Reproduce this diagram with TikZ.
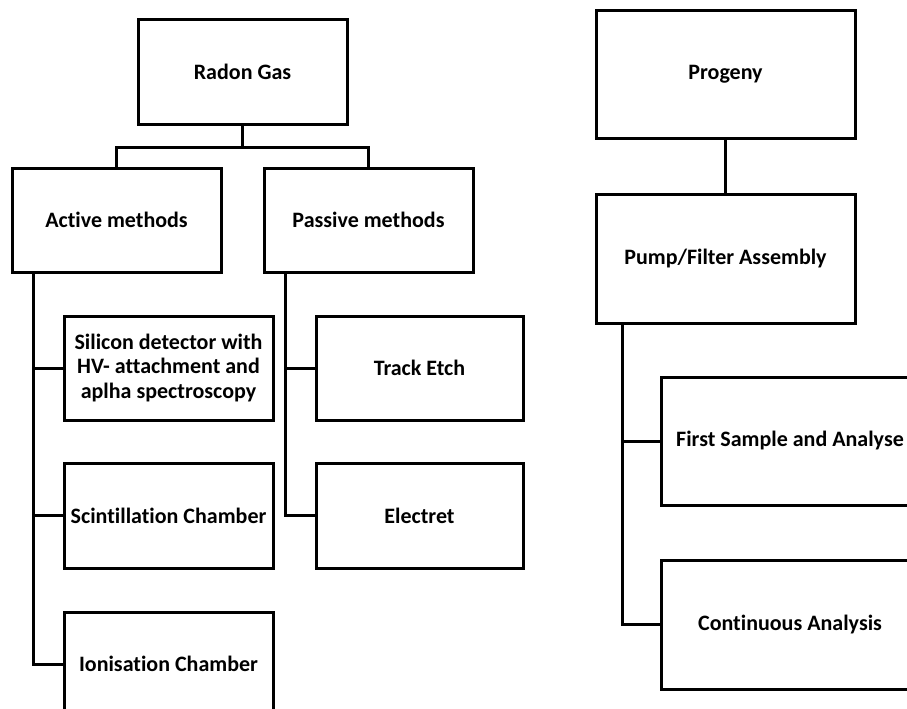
\documentclass[tikz,border=0pt]{standalone}
\usepackage{fontspec}
\setmainfont[Ligatures={NoCommon,NoRare}]{Carlito}
\begin{document}
\begin{tikzpicture}[x=1pt,y=-1pt,
  box/.style={draw=black,line width=3pt,rectangle,align=center,inner sep=0pt,
    font=\fontsize{22}{24.5}\selectfont\bfseries,text=black},
  sbox/.style={box,minimum width=209pt,minimum height=104pt},
  wbox/.style={box,minimum width=259pt,minimum height=128pt},
  link/.style={draw=black,line width=3pt,line join=miter}]
\useasboundingbox (0,0) rectangle (907,709);
\clip (0,0) rectangle (907,709);
\fill[white] (0,0) rectangle (907,709);
% left tree
\node[sbox] (radon) at (242.5,72) {Radon Gas};
\node[sbox] (active) at (116.5,220) {Active methods};
\node[sbox] (passive) at (368.5,220) {Passive methods};
\node[sbox] (silicon) at (168.5,368) {Silicon detector with\\HV- attachment and\\aplha spectroscopy};
\node[sbox,minimum height=105pt] (scint) at (168.5,515.5) {Scintillation Chamber};
\node[sbox] (ion) at (168.5,664) {Ionisation Chamber};
\node[box,minimum width=207pt,minimum height=104pt] (track) at (419.5,368) {Track Etch};
\node[box,minimum width=207pt,minimum height=105pt] (electret) at (419.5,515.5) {Electret};
% right tree
\node[wbox,minimum height=127pt] (progeny) at (725.5,74.5) {Progeny};
\node[wbox,minimum height=129pt] (pump) at (725.5,258.5) {Pump/Filter Assembly};
\node[box,minimum width=258pt,minimum height=128pt] (first) at (790,441) {First Sample and Analyse};
\node[box,minimum width=258pt,minimum height=129pt] (cont) at (790,624.5) {Continuous Analysis};
% connectors
\draw[link] (radon.south) -- ++(0,22) -| (active.north);
\draw[link] (radon.south) -- ++(0,22) -| (passive.north);
\draw[link] ([xshift=-83.5]active.south) |- (silicon.west);
\draw[link] ([xshift=-83.5]active.south) |- (scint.west);
\draw[link] ([xshift=-83.5]active.south) |- (ion.west);
\draw[link] ([xshift=-83.5]passive.south) |- (track.west);
\draw[link] ([xshift=-83.5]passive.south) |- (electret.west);
\draw[link] (progeny.south) -- (pump.north);
\draw[link] ([xshift=-103.5]pump.south) |- (first.west);
\draw[link] ([xshift=-103.5]pump.south) |- (cont.west);
\end{tikzpicture}
\end{document}
